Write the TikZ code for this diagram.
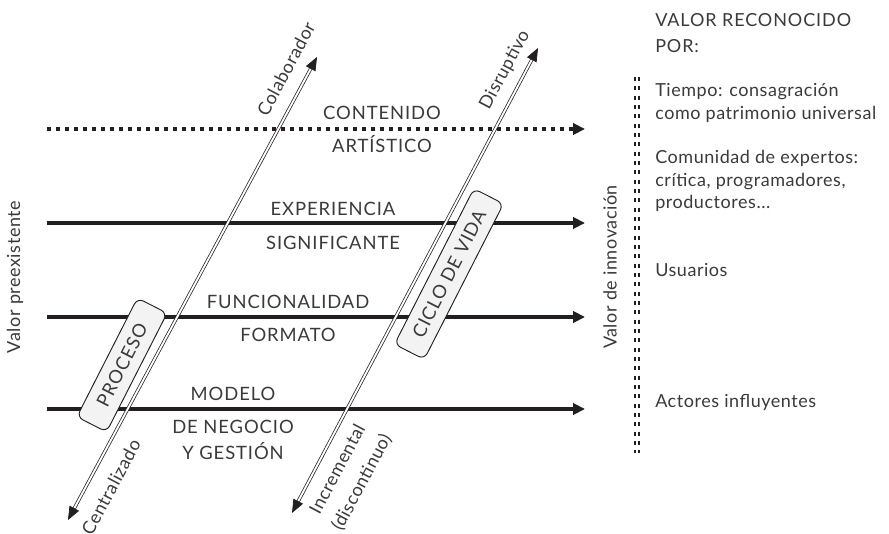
\documentclass[tikz,border=0pt]{standalone}
\usepackage{fontspec}
\setmainfont{Lato}[LetterSpace=3]
\newfontfamily\capsfont[LetterSpace=5]{Lato}
\usetikzlibrary{arrows.meta, positioning}
\definecolor{ink}{HTML}{231F20}
\definecolor{txt}{HTML}{3A3A3A}
\definecolor{boxfill}{HTML}{F3F3F3}
\tikzstyle{hline} = [line width=2.4pt, draw=ink, -{Triangle[length=9pt,width=8.5pt]}]
\tikzstyle{diag} = [draw=ink, line width=0.55pt, double=white, double distance=1.4pt, {Triangle[length=10pt,width=8pt]}-{Triangle[length=10pt,width=8pt]}]
\tikzstyle{vline} = [draw=ink, line width=1pt, double=white, double distance=1.8pt, dash pattern=on 3pt off 4pt]
\tikzstyle{lbl} = [font=\capsfont\fontsize{13.8}{19.5}\selectfont, text=txt, text height=10pt, text depth=0pt]
\tikzstyle{lbltwo} = [font=\capsfont\fontsize{13.8}{19.5}\selectfont, text=txt, align=center]
\tikzstyle{dlbl} = [font=\fontsize{13.5}{20.5}\selectfont, text=txt, rotate=62]
\tikzstyle{sidelbl} = [font=\fontsize{13.5}{17}\selectfont, text=txt, rotate=90]
\tikzstyle{stage} = [rectangle, rounded corners=5pt, draw=ink, line width=0.7pt, fill=boxfill, minimum height=25pt, rotate=63, font=\capsfont\fontsize{13.8}{16}\selectfont, text=txt]
\tikzstyle{rtext} = [anchor=west, align=left, inner sep=3pt, font=\fontsize{13.5}{17}\selectfont, text=txt]

\begin{document}
\begin{tikzpicture}[x=0.75pt, y=-0.75pt, node distance=6pt]
    \useasboundingbox (0,0) rectangle (889,534);

    % horizontal levels
    \coordinate (artS) at (47,129);  \coordinate (artE) at (585,129);
    \coordinate (expS) at (47,223);  \coordinate (expE) at (585,223);
    \coordinate (funS) at (47,317);  \coordinate (funE) at (585,317);
    \coordinate (modS) at (47,409);  \coordinate (modE) at (585,409);

    \draw [hline, dash pattern=on 3pt off 3.75pt] (artS) -- (artE);
    \draw [hline] (expS) -- (expE);
    \draw [hline] (funS) -- (funE);
    \draw [hline] (modS) -- (modE);

    \node (contenido) [lbl] at (382,113) {CONTENIDO};
    \node (artistico) [lbl] at (382,146) {ARTÍSTICO};
    \node (experiencia) [lbl] at (333,209) {EXPERIENCIA};
    \node (significante) [lbl] at (333,243) {SIGNIFICANTE};
    \node (funcional) [lbl] at (288,302) {FUNCIONALIDAD};
    \node (formato) [lbl] at (288,335) {FORMATO};
    \node (modelo) [lbl] at (233,394) {MODELO};
    \node (negocio) [lbltwo] at (233,440) {DE NEGOCIO\\Y GESTIÓN};

    % diagonal axes
    \coordinate (cenEnd) at (68,520);  \coordinate (colEnd) at (317,57);
    \coordinate (incEnd) at (292,513); \coordinate (disEnd) at (538,48);

    \draw [diag] (cenEnd) -- (colEnd);
    \draw [diag] (incEnd) -- (disEnd);

    \node (colab) [dlbl] at (286,69) {Colaborador};
    \node (disrup) [dlbl] at (505,70) {Disruptivo};
    \node (central) [dlbl] at (111,487) {Centralizado};
    \node (increm) [dlbl, align=center] at (350,476) {Incremental\\(discontinuo)};

    \node (proceso) [stage, minimum width=100pt] at (122,365) {PROCESO};
    \node (ciclo) [stage, minimum width=131pt] at (449,274) {CICLO DE VIDA};

    % side scales
    \node (preex) [sidelbl] at (15,277) {Valor preexistente};
    \node (innov) [sidelbl] at (610,267) {Valor de innovación};

    \coordinate (vTop) at (637,77); \coordinate (vBot) at (637,453);
    \draw [vline] (vTop) -- (vBot);

    \node (recon) [rtext, font=\capsfont\fontsize{13.5}{20}\selectfont] at (651,33) {VALOR RECONOCIDO\\POR:};
    \node (tiempo) [rtext] at (651,103) {Tiempo: consagración\\como patrimonio universal};
    \node (comunidad) [rtext] at (651,181) {Comunidad de expertos:\\crítica, programadores,\\productores...};
    \node (usuarios) [rtext] at (651,270) {Usuarios};
    \node (actores) [rtext] at (651,402) {Actores influyentes};

\end{tikzpicture}
\end{document}
